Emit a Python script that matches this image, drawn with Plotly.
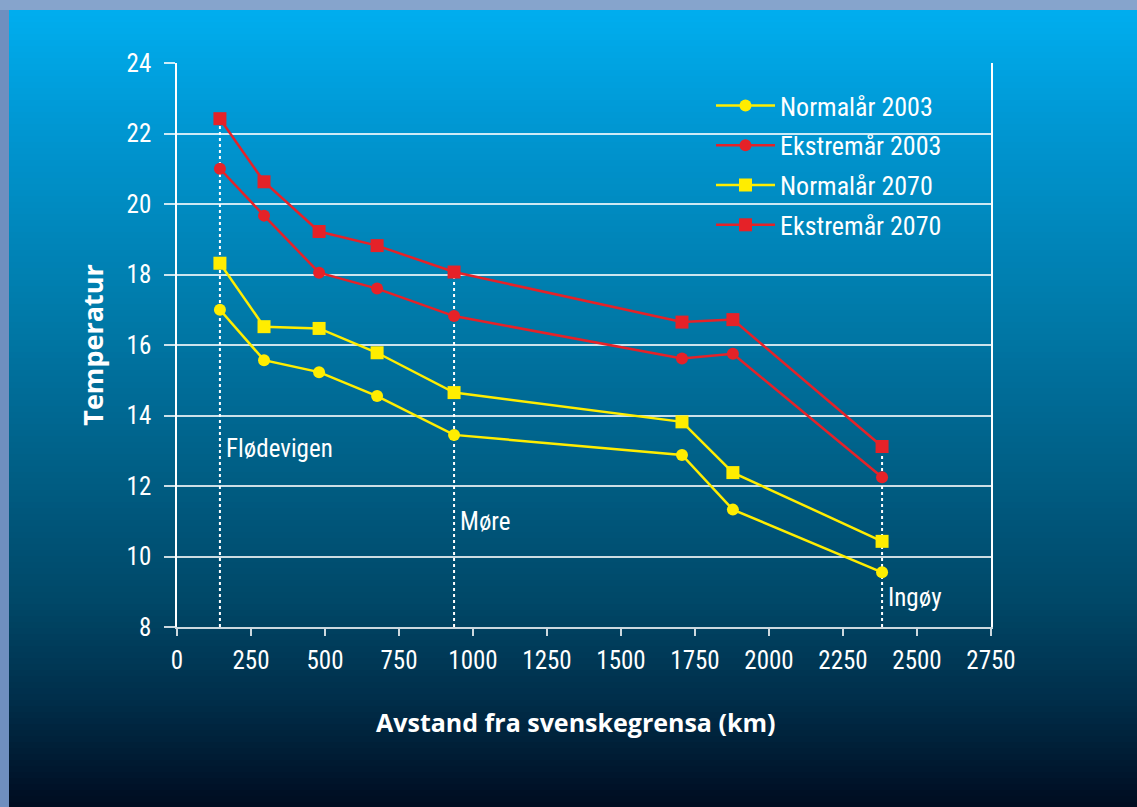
import plotly.graph_objects as go

# ---------------- data ----------------
distance_km = [145, 294, 480, 676, 936, 1706, 1878, 2382]
normal_2003 = [17.0, 15.57, 15.23, 14.55, 13.45, 12.88, 11.33, 9.55]
extreme_2003 = [21.0, 19.67, 18.05, 17.6, 16.82, 15.62, 15.75, 12.25]
normal_2070 = [18.32, 16.52, 16.47, 15.78, 14.65, 13.82, 12.38, 10.43]
extreme_2070 = [22.42, 20.63, 19.22, 18.82, 18.07, 16.65, 16.72, 13.12]

series_names = ["Normalår 2003", "Ekstremår 2003", "Normalår 2070", "Ekstremår 2070"]

stations = ["Flødevigen", "Møre", "Ingøy"]
station_x = [145, 936, 2382]
station_top = [22.42, 18.07, 13.12]
station_label_y = [13.05, 11.0, 8.85]

x_ticks = [0, 250, 500, 750, 1000, 1250, 1500, 1750, 2000, 2250, 2500, 2750]
y_ticks = [8, 10, 12, 14, 16, 18, 20, 22, 24]

x_title = "Avstand fra svenskegrensa (km)"
y_title = "Temperatur"

# ---------------- style ----------------
W, H = 1137, 807
ML, MR, MT, MB = 177, 146, 63, 180
PW, PH = W - ML - MR, H - MT - MB
YELLOW = "#ffed00"
RED = "#e52228"
FONT = "Liberation Sans Narrow, Roboto Condensed, Roboto, sans-serif"
BOLD = "Open Sans, Lato, sans-serif"


def px2paper_x(px):
    return (px - ML) / PW


def px2paper_y(py):
    return (H - MB - py) / PH


fig = go.Figure()

styles = [
    (YELLOW, "circle", 12),
    (RED, "circle", 12),
    (YELLOW, "square", 13),
    (RED, "square", 13),
]
for name, vals, (col, sym, sz) in zip(series_names,
                                      [normal_2003, extreme_2003, normal_2070, extreme_2070],
                                      styles):
    fig.add_trace(go.Scatter(
        x=distance_km, y=vals, name=name, mode="lines+markers",
        line=dict(color=col, width=2.5),
        marker=dict(color=col, symbol=sym, size=sz),
        legendgroup=name,
    ))

shapes = []
# background gradient
stops = [
    (10, (0, 174, 239)),
    (120, (0, 152, 212)),
    (300, (0, 124, 172)),
    (450, (0, 98, 138)),
    (600, (0, 72, 104)),
    (700, (0, 46, 74)),
    (807, (0, 12, 32)),
]


def color_at(py):
    for (y0, c0), (y1, c1) in zip(stops[:-1], stops[1:]):
        if y0 <= py <= y1:
            t = (py - y0) / (y1 - y0)
            return tuple(int(round(a + (b - a) * t)) for a, b in zip(c0, c1))
    return stops[-1][1]


step = 6
py = 10
while py < H:
    c = color_at(py + step / 2)
    shapes.append(dict(
        type="rect", xref="paper", yref="paper", layer="below",
        x0=px2paper_x(0), x1=px2paper_x(W + 2),
        y0=px2paper_y(py), y1=px2paper_y(min(py + step + 1, H + 2)),
        line=dict(width=0), fillcolor="rgb(%d,%d,%d)" % c,
    ))
    py += step
# top and left frame
shapes.append(dict(type="rect", xref="paper", yref="paper", layer="above",
                   x0=px2paper_x(-2), x1=px2paper_x(W + 2),
                   y0=px2paper_y(10), y1=px2paper_y(-2),
                   line=dict(width=0), fillcolor="#86a4cc"))
shapes.append(dict(type="rect", xref="paper", yref="paper", layer="above",
                   x0=px2paper_x(-2), x1=px2paper_x(9),
                   y0=px2paper_y(H + 2), y1=px2paper_y(10),
                   line=dict(width=0), fillcolor="#6f8fbf"))

# dotted station lines
for sx, top in zip(station_x, station_top):
    shapes.append(dict(type="line", xref="x", yref="y", layer="below",
                       x0=sx, x1=sx, y0=8, y1=top,
                       line=dict(color="white", width=2, dash="dot")))

annotations = []
for name, sx, ly in zip(stations, station_x, station_label_y):
    annotations.append(dict(x=sx, y=ly, xref="x", yref="y", text=name,
                            showarrow=False, xanchor="left", xshift=4,
                            font=dict(family=FONT, size=25, color="white")))
# x-axis title as annotation (slightly left of plot centre, as in reference)
annotations.append(dict(x=px2paper_x(575), y=px2paper_y(722), xref="paper", yref="paper",
                        text="<b>%s</b>" % x_title, showarrow=False,
                        xanchor="center", yanchor="middle",
                        font=dict(family=BOLD, size=25, color="white")))

fig.update_layout(
    width=W, height=H,
    margin=dict(l=ML, r=MR, t=MT, b=MB, autoexpand=False),
    paper_bgcolor="#004a6c",
    plot_bgcolor="rgba(0,0,0,0)",
    shapes=shapes,
    annotations=annotations,
    showlegend=True,
    legend=dict(
        x=px2paper_x(711), y=px2paper_y(82), xanchor="left", yanchor="top",
        bgcolor="rgba(0,0,0,0)",
        font=dict(family=FONT, size=26, color="white"),
        tracegroupgap=3,
        itemwidth=59,
    ),
    xaxis=dict(
        range=[0, 2750], tickvals=x_ticks,
        showgrid=False, zeroline=False,
        showline=True, linecolor="rgba(255,255,255,0.8)", linewidth=1.5,
        ticks="outside", ticklen=7, tickwidth=1.5, tickcolor="rgba(255,255,255,0.8)",
        tickfont=dict(family=FONT, size=25, color="white"),
        ticklabelstandoff=3,
    ),
    yaxis=dict(
        range=[8, 24], tickvals=y_ticks,
        showgrid=True, gridcolor="rgba(255,255,255,0.8)", gridwidth=1.5,
        zeroline=False,
        showline=True, linecolor="white", linewidth=1.5, mirror=True,
        ticks="outside", ticklen=11, tickwidth=1.5, tickcolor="rgba(255,255,255,0.8)",
        tickfont=dict(family=FONT, size=25, color="white"),
        ticklabelstandoff=8,
        title=dict(text="<b>%s</b>" % y_title,
                   font=dict(family=BOLD, size=27, color="white"), standoff=15),
    ),
)

fig.write_html("out.html",
               config={"displayModeBar": False},
               post_script="document.body.style.margin='0';document.body.style.background='#00122a';")
